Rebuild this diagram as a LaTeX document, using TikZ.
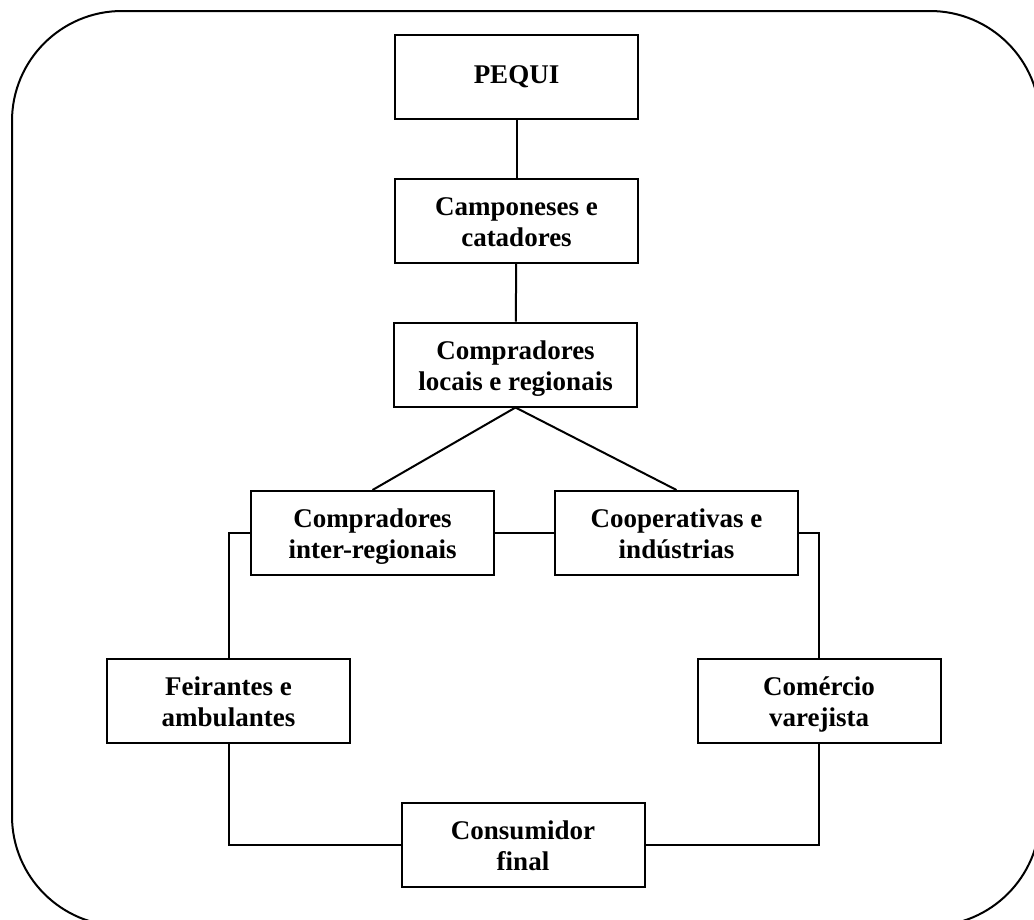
\documentclass[tikz,border=0pt]{standalone}
\usepackage{fontspec}
\setmainfont{Liberation Serif}
\newcommand\topln{\rule{0pt}{27pt}}
\newcommand\botln{\rule[-7pt]{0pt}{7pt}}
\newcommand\boxfont{\fontsize{27}{31}\selectfont\bfseries\lineskiplimit=-100pt\relax}
\begin{document}
\begin{tikzpicture}[x=1pt,y=-1pt,
  box/.style={draw, line width=2pt, minimum width=243pt, minimum height=84pt,
    inner sep=0pt, align=center, font=\boxfont},
  conn/.style={line width=2pt}]
\useasboundingbox (0,0) rectangle (1034,919);
\clip (0,0) rectangle (1034,919);
\draw[line width=2pt, rounded corners=110pt] (12,11) rectangle (1040,926);
\node[box] (pequi) at (516.5,77) {PEQUI};
\node[box] (camp) at (516.5,221) {\topln Camponeses e\\\botln catadores};
\node[box] (loc) at (515.5,364.5) {\topln Compradores\\\botln locais e regionais};
\node[box] (inter) at (372.5,533) {\topln Compradores\\\botln inter-regionais};
\node[box] (coop) at (676.5,533) {\topln Cooperativas e\\\botln indústrias};
\node[box] (feir) at (228.5,701) {\topln Feirantes e\\\botln ambulantes};
\node[box] (com) at (819,701) {\topln Comércio\\\botln varejista};
\node[box] (cons) at (523,845) {\topln Consumidor\\\botln final};
\draw[conn] (pequi) -- (camp);
\draw[conn] (camp) -- (loc);
\draw[conn] (loc.south) -- (inter.north);
\draw[conn] (loc.south) -- (coop.north);
\draw[conn] (inter) -- (coop);
\draw[conn] (inter.west) -| (feir.north);
\draw[conn] (feir.south) |- (cons.west);
\draw[conn] (coop.east) -| (com.north);
\draw[conn] (com.south) |- (cons.east);
\end{tikzpicture}
\end{document}
